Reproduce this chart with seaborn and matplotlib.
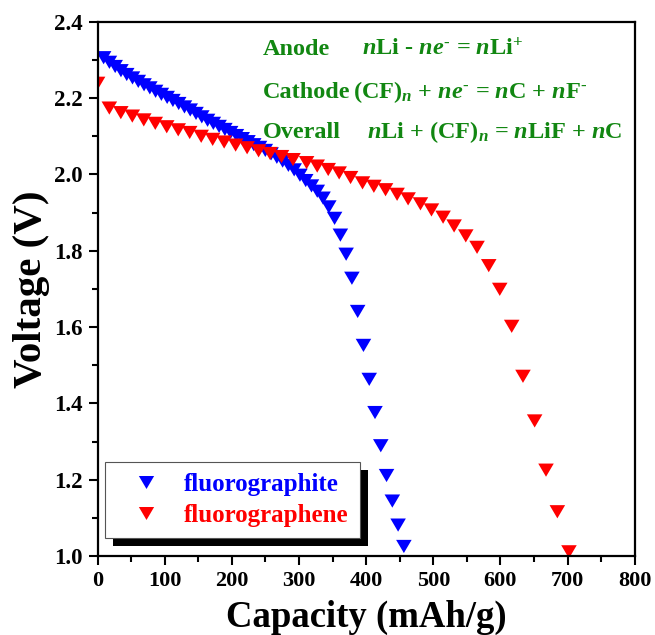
import numpy as np
import pandas as pd
import seaborn as sns
import matplotlib
matplotlib.use("Agg")
import matplotlib.pyplot as plt
from matplotlib.lines import Line2D
from matplotlib.patches import Rectangle
from matplotlib.ticker import MultipleLocator

# ---------------- data ----------------
graphite_capacity = [9.0, 17.6, 26.2, 34.8, 43.4, 52.0, 60.6, 69.2, 77.8, 86.4,
                     95.0, 103.6, 112.2, 120.8, 129.4, 138.0, 146.6, 155.2, 163.8, 172.4,
                     181.0, 189.6, 198.2, 206.8, 215.4, 224.0, 232.6, 241.2, 249.8, 258.4,
                     267.0, 275.6, 284.2, 292.8, 301.4, 310.0, 318.6, 327.2, 335.8, 344.4,
                     353.0, 361.6, 370.2, 378.8, 387.4, 396.0, 404.6, 413.2, 421.8, 430.4,
                     439.0, 447.6, 456.2]
graphite_voltage = [2.306, 2.294, 2.283, 2.272, 2.262, 2.253, 2.244, 2.235, 2.227, 2.218,
                    2.210, 2.202, 2.194, 2.186, 2.177, 2.169, 2.160, 2.151, 2.142, 2.134,
                    2.126, 2.118, 2.110, 2.102, 2.094, 2.086, 2.078, 2.071, 2.063, 2.054,
                    2.045, 2.035, 2.024, 2.012, 1.998, 1.984, 1.970, 1.956, 1.938, 1.915,
                    1.885, 1.841, 1.791, 1.728, 1.641, 1.552, 1.463, 1.376, 1.289, 1.211,
                    1.144, 1.081, 1.025]

graphene_capacity = [0.0, 17.5, 34.6, 51.7, 68.8, 85.9, 103.0, 120.1, 137.2, 154.3,
                     171.4, 188.5, 205.6, 222.7, 239.8, 256.9, 274.0, 291.1, 311.3, 327.1,
                     343.5, 359.8, 376.8, 394.6, 411.5, 428.9, 446.1, 462.5, 480.9, 497.3,
                     514.6, 531.0, 548.4, 565.2, 582.6, 599.0, 616.8, 633.6, 651.0, 667.9,
                     684.8, 702.1]
graphene_voltage = [2.239, 2.174, 2.162, 2.153, 2.143, 2.134, 2.125, 2.117, 2.110, 2.100,
                    2.092, 2.085, 2.077, 2.070, 2.062, 2.055, 2.047, 2.039, 2.031, 2.022,
                    2.013, 2.004, 1.992, 1.978, 1.969, 1.960, 1.948, 1.936, 1.923, 1.907,
                    1.888, 1.865, 1.839, 1.809, 1.761, 1.699, 1.602, 1.471, 1.354, 1.225,
                    1.116, 1.011]

series_names = ["fluorographite", "fluorographene"]
series_colors = ["#0000ff", "#ff0000"]
x_label = "Capacity (mAh/g)"
y_label = "Voltage (V)"
equation_names = ["Anode", "Cathode", "Overall"]
equations = [r"$n\mathrm{Li}$ - $ne^{\mathrm{‐}}$ = $n\mathrm{Li}^{+}$",
             r"$(\mathrm{CF})_{n}$ + $ne^{\mathrm{‐}}$ = $n$C + $n\mathrm{F}^{\mathrm{‐}}$",
             r"$n$Li + $(\mathrm{CF})_{n}$ = $n$LiF + $n$C"]

df = pd.DataFrame({
    "capacity": graphite_capacity + graphene_capacity,
    "voltage": graphite_voltage + graphene_voltage,
    "sample": [series_names[0]] * len(graphite_capacity) + [series_names[1]] * len(graphene_capacity),
})

# ---------------- style ----------------
sns.set_style("ticks")
plt.rcParams["font.family"] = ["Liberation Serif", "DejaVu Serif"]
plt.rcParams["font.weight"] = "bold"
plt.rcParams["text.color"] = "black"
plt.rcParams["axes.labelcolor"] = "black"
plt.rcParams["xtick.color"] = "black"
plt.rcParams["ytick.color"] = "black"
plt.rcParams["mathtext.fontset"] = "custom"
plt.rcParams["mathtext.rm"] = "Liberation Serif:bold"
plt.rcParams["mathtext.bf"] = "Liberation Serif:bold"
plt.rcParams["mathtext.it"] = "Liberation Serif:bold:italic"

tri = [(-1.0, 0.85), (1.0, 0.85), (0.0, -0.85)]

fig = plt.figure(figsize=(6.55, 6.35), dpi=100)
ax = fig.add_axes([0.149, 0.1244, 0.820, 0.8412])

sns.scatterplot(data=df, x="capacity", y="voltage", hue="sample",
                hue_order=series_names, palette=dict(zip(series_names, series_colors)),
                marker=tri, s=125, linewidth=0, edgecolor="none", legend=False,
                ax=ax, zorder=3)
for coll in ax.collections:
    coll.set_clip_on(True)

ax.set_xlim(0, 800)
ax.set_ylim(1.0, 2.4)
ax.xaxis.set_major_locator(MultipleLocator(100))
ax.xaxis.set_minor_locator(MultipleLocator(50))
ax.yaxis.set_major_locator(MultipleLocator(0.2))
ax.yaxis.set_minor_locator(MultipleLocator(0.1))
ax.yaxis.set_major_formatter(matplotlib.ticker.FormatStrFormatter("%.1f"))
for sp in ax.spines.values():
    sp.set_linewidth(1.6)
    sp.set_color("black")
    sp.set_zorder(5)
ax.tick_params(which="major", direction="out", length=6.5, width=1.5,
               pad=4, colors="black")
ax.tick_params(axis="x", which="major", labelsize=16)
ax.tick_params(axis="y", which="major", labelsize=16.5)
ax.tick_params(which="minor", direction="out", length=4, width=1.5)
for lab in ax.get_xticklabels() + ax.get_yticklabels():
    lab.set_fontweight("bold")

ax.set_xlabel(x_label, fontsize=26.5, fontweight="bold", labelpad=7)
ax.set_ylabel(y_label, fontsize=29.5, fontweight="bold", labelpad=3)

# equations
green = "#128712"
name_y = [0.938, 0.857, 0.782]
eq_x = [0.4915, 0.475, 0.501]
for nm, eq, yy, xx in zip(equation_names, equations, name_y, eq_x):
    ax.text(0.308, yy, nm, transform=ax.transAxes, color=green, fontsize=17.5,
            fontweight="bold", va="baseline", ha="left")
    ax.text(xx, yy, eq, transform=ax.transAxes, color=green, fontsize=17.5,
            fontweight="bold", va="baseline", ha="left")

# legend
handles = [Line2D([], [], linestyle="none", marker=tri, markersize=11,
                  markerfacecolor=c, markeredgewidth=0) for c in series_colors]
leg = ax.legend(handles, series_names, loc="lower left",
                bbox_to_anchor=(0.014, 0.034), borderaxespad=0,
                prop={"family": "Liberation Serif", "weight": "bold", "size": 18},
                handlelength=2.4, handletextpad=0.3, borderpad=0.45,
                labelspacing=0.3, fancybox=False, frameon=True, framealpha=1)
leg.get_frame().set_edgecolor("#555555")
leg.get_frame().set_facecolor("white")
leg.get_frame().set_linewidth(0.8)
for t, c in zip(leg.get_texts(), series_colors):
    t.set_color(c)
leg.set_zorder(10)

fig.canvas.draw()
bb = leg.get_frame().get_window_extent()
shadow = Rectangle((bb.x0 + 8, bb.y0 - 8), bb.width, bb.height, transform=None,
                   facecolor="black", edgecolor="none", zorder=9)
ax.add_artist(shadow)

fig.savefig("out.png", dpi=100)
